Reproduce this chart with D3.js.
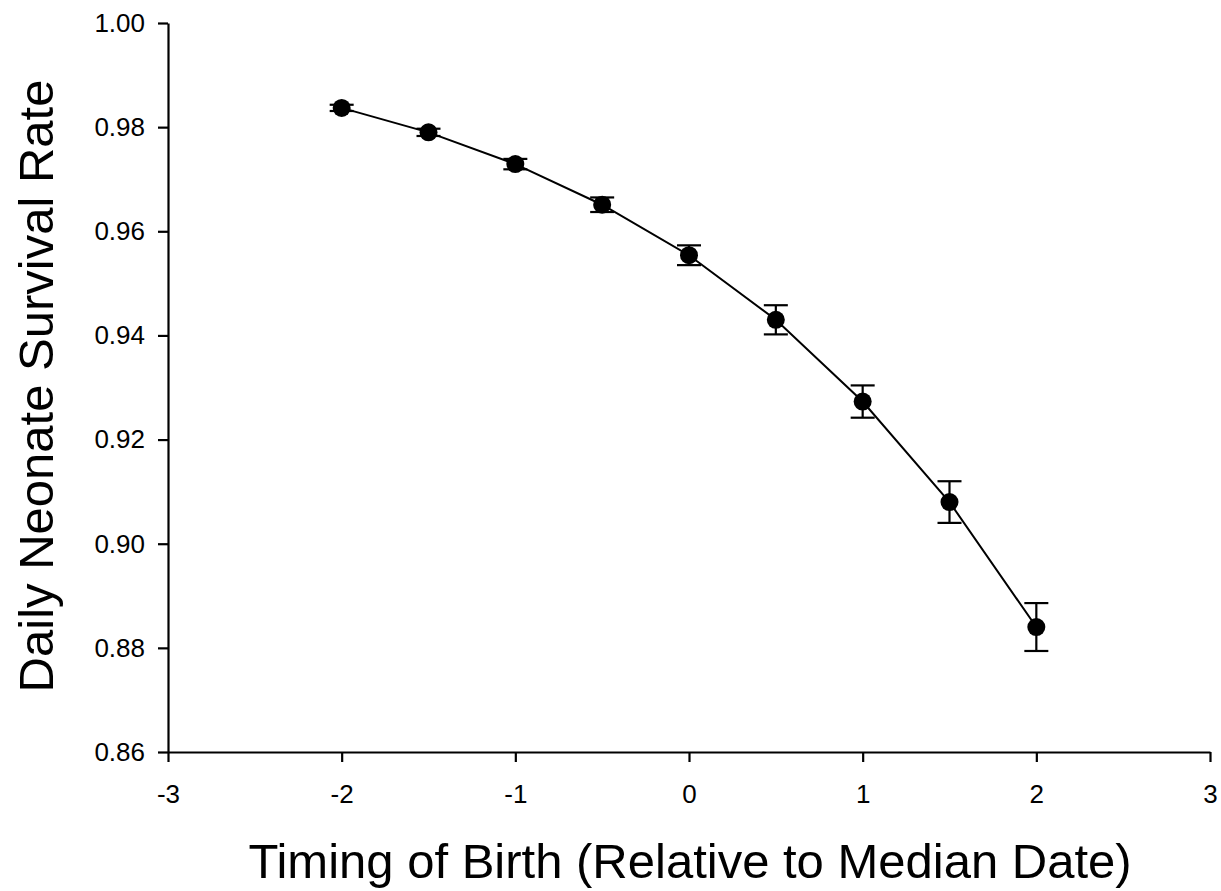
<!DOCTYPE html>
<html>
<head>
<meta charset="utf-8">
<script src="https://cdn.jsdelivr.net/npm/d3@7"></script>
<style>
  html, body { margin: 0; padding: 0; background: #fff; }
  svg { display: block; }
  text { font-family: "Liberation Sans", Arial, sans-serif; fill: #000; }
</style>
</head>
<body>
<svg id="chart" width="1221" height="891"></svg>
<script>
// Data
const timing = [-2, -1.5, -1, -0.5, 0, 0.5, 1, 1.5, 2];
const survival = [0.9837, 0.9790, 0.9729, 0.9651, 0.9554, 0.9430, 0.9273, 0.9080, 0.8840];
const stdErr = [0.0006, 0.0007, 0.0010, 0.0014, 0.0019, 0.0028, 0.0031, 0.0040, 0.0046];
const xTicks = [-3, -2, -1, 0, 1, 2, 3];
const yTicks = [0.86, 0.88, 0.90, 0.92, 0.94, 0.96, 0.98, 1.00];
const xTitle = "Timing of Birth (Relative to Median Date)";
const yTitle = "Daily Neonate Survival Rate";

(function () {
const svg = d3.select("#chart");
const mLeft = 168, mRight = 1210, mTop = 23, mBottom = 752;

const x = d3.scaleLinear().domain([-3, 3]).range([mLeft, mRight]);
const y = d3.scaleLinear().domain([0.86, 1.00]).range([mBottom, mTop]);

const data = timing.map((t, i) => ({ t, v: survival[i], e: stdErr[i] }));

// Axes
const xAxis = svg.append("g")
  .attr("transform", `translate(0,${mBottom})`)
  .call(d3.axisBottom(x).tickValues(xTicks).tickFormat(d => String(d))
    .tickSize(10).tickSizeOuter(0).tickPadding(23));
const yAxis = svg.append("g")
  .attr("transform", `translate(${mLeft},0)`)
  .call(d3.axisLeft(y).tickValues(yTicks).tickFormat(d => d.toFixed(2))
    .tickSize(10).tickSizeOuter(0).tickPadding(13));

[xAxis, yAxis].forEach(g => {
  g.select(".domain").attr("stroke", "#000").attr("stroke-width", 2.2);
  g.selectAll(".tick line").attr("stroke", "#000").attr("stroke-width", 2.2);
  g.selectAll(".tick text")
    .attr("font-family", "'Liberation Sans', Arial, sans-serif")
    .attr("font-size", 26).attr("fill", "#000");
});

// Line
const line = d3.line().x(d => x(d.t)).y(d => y(d.v));
svg.append("path").datum(data)
  .attr("d", line).attr("fill", "none")
  .attr("stroke", "#000").attr("stroke-width", 2);

// Error bars
const eb = svg.append("g").attr("stroke", "#000").attr("stroke-width", 2.2);
const cap = 12;
data.forEach(d => {
  eb.append("line").attr("x1", x(d.t)).attr("x2", x(d.t))
    .attr("y1", y(d.v + d.e)).attr("y2", y(d.v - d.e));
  eb.append("line").attr("x1", x(d.t) - cap).attr("x2", x(d.t) + cap)
    .attr("y1", y(d.v + d.e)).attr("y2", y(d.v + d.e));
  eb.append("line").attr("x1", x(d.t) - cap).attr("x2", x(d.t) + cap)
    .attr("y1", y(d.v - d.e)).attr("y2", y(d.v - d.e));
});

// Markers
svg.append("g").selectAll("circle").data(data).join("circle")
  .attr("cx", d => x(d.t)).attr("cy", d => y(d.v))
  .attr("r", 9).attr("fill", "#000");

// Titles
svg.append("text")
  .attr("x", (mLeft + mRight) / 2 + 1).attr("y", 878)
  .attr("text-anchor", "middle").attr("font-size", 49)
  .text(xTitle);
svg.append("text")
  .attr("transform", `translate(53,${(82 + 690) / 2}) rotate(-90)`)
  .attr("text-anchor", "middle").attr("font-size", 49)
  .text(yTitle);
})();
</script>
</body>
</html>
